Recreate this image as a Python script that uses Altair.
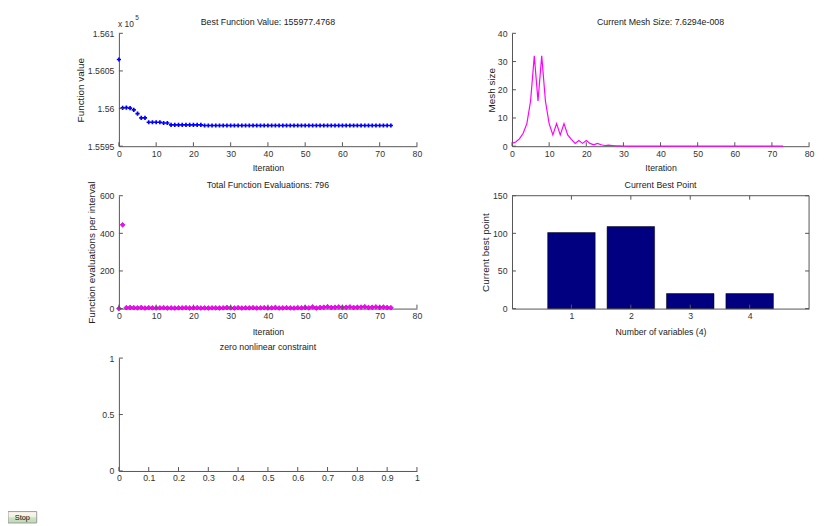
import altair as alt
import pandas as pd

FONT = "Liberation Sans, Arial, sans-serif"
AXC = "#555555"
LBL = "#333333"
TXT = "#222222"

# ---------------- data ----------------
iterations = list(range(74))
best_values = [
    156065.2, 156001.0, 156001.2, 156000.5, 155998.2, 155993.4, 155987.7, 155987.7,
    155981.8, 155981.8, 155981.8, 155981.8, 155980.8, 155980.8, 155978.4, 155978.4,
    155978.4, 155978.4, 155978.4, 155978.4, 155978.4, 155978.4, 155978.4, 155977.5,
    155977.5, 155977.5, 155977.5, 155977.5, 155977.5, 155977.5, 155977.5, 155977.5,
    155977.5, 155977.5, 155977.5, 155977.5, 155977.5, 155977.5, 155977.5, 155977.5,
    155977.5, 155977.5, 155977.5, 155977.5, 155977.5, 155977.5, 155977.5, 155977.5,
    155977.5, 155977.5, 155977.5, 155977.5, 155977.5, 155977.5, 155977.5, 155977.5,
    155977.5, 155977.5, 155977.5, 155977.5, 155977.5, 155977.5, 155977.5, 155977.5,
    155977.5, 155977.5, 155977.5, 155977.5, 155977.5, 155977.5, 155977.5, 155977.5,
    155977.5, 155977.48,
]
mesh_sizes = [
    1.0, 1.5, 2.6, 4.6, 8.0, 16.0, 32.0, 16.0, 32.0, 16.0, 8.0, 4.0, 8.0, 4.0, 8.0, 4.0,
    2.4, 1.0, 2.0, 1.0, 2.0, 1.0, 0.5, 1.0, 0.5, 0.25, 0.4, 0.25, 0.12, 0.1, 0.06, 0.03,
    0.02, 0.01, 0.008, 0.005, 0.004, 0.003, 0.002, 0.0015, 0.001, 0.0008, 0.0005, 0.0004,
    0.0003, 0.0002, 0.00015, 0.0001, 0.00008, 0.00005, 0.00004, 0.00003, 0.00002,
    0.000015, 0.00001, 0.000008, 0.000005, 0.000004, 0.000003, 0.000002, 0.0000015,
    0.000001, 0.0000008, 0.0000005, 0.0000004, 0.0000003, 0.0000002, 0.00000015,
    0.0000001, 0.00000009, 0.00000008, 0.00000008, 0.000000077, 0.0000000763,
]
func_evals = [
    0, 445,
    5, 6, 5, 4, 6, 3, 5, 4, 3, 4, 5, 3, 4, 3, 4, 4, 5, 3, 4, 5, 3, 4, 3, 4,
    4, 3, 4, 6, 4, 3, 5, 3, 4, 4, 5, 3, 4, 5, 3, 4, 6, 3, 4, 5, 4, 3, 5, 4,
    6, 4, 9, 3, 6, 7, 10, 6, 7, 9, 6, 7, 9, 6, 7, 8, 10, 6, 7, 9, 6, 8, 6, 5,
]
variables = [1, 2, 3, 4]
best_point = [101, 109, 20, 20]

iter_ticks = [0, 10, 20, 30, 40, 50, 60, 70, 80]
fv_ticks = [1.5595, 1.56, 1.5605, 1.561]
mesh_ticks = [0, 10, 20, 30, 40]
fe_ticks = [0, 200, 400, 600]
bp_ticks = [0, 50, 100, 150]
var_ticks = [1, 2, 3, 4]
unit_ticks_x = [0, 0.1, 0.2, 0.3, 0.4, 0.5, 0.6, 0.7, 0.8, 0.9, 1]
unit_ticks_y = [0, 0.5, 1]

titles = [
    "Best Function Value: 155977.4768",
    "Current Mesh Size: 7.6294e-008",
    "Total Function Evaluations: 796",
    "Current Best Point",
    "zero nonlinear constraint",
]

LW, RW, H = 301, 300, 114
LABEL_SIZE = 8.8
XTITLE_SIZE = 8.8
YTITLE_SIZE = 10
TITLE_SIZE = 8.9


def xaxis(vals, title=None, fmt="d", ty=22):
    kw = dict(values=vals, ticks=False, tickSize=0, grid=False, labelPadding=3,
              domainColor=AXC, labelColor=LBL, labelFont=FONT,
              labelFontSize=LABEL_SIZE, labelFlush=False, labelOverlap=False,
              labelExpr="format(datum.value, '%s')" % fmt)
    if title:
        kw.update(title=title, titleFont=FONT, titleFontSize=XTITLE_SIZE, titleFontWeight="normal",
                  titleColor=TXT, titleY=ty, titleBaseline="middle")
    else:
        kw.update(title=None)
    return alt.Axis(**kw)


def yaxis(vals, title=None, fmt="d", tx=-30):
    kw = dict(values=vals, ticks=False, tickSize=0, grid=False, labelPadding=5,
              domainColor=AXC, labelColor=LBL, labelFont=FONT, labelFontSize=LABEL_SIZE,
              labelFlush=False, labelOverlap=False,
              labelExpr="format(datum.value, '%s')" % fmt)
    if title:
        kw.update(title=title, titleFont=FONT, titleFontSize=YTITLE_SIZE, titleFontWeight="normal",
                  titleColor=TXT, titleX=tx, titleY=H / 2, titleBaseline="middle",
                  titleAngle=270, titleAlign="center")
    else:
        kw.update(title=None)
    return alt.Axis(**kw)


def ticks_layers(xvals, yvals, xs, ys, ax, ay, w, top=False, right=False):
    dx = pd.DataFrame({"x": xvals})
    dy = pd.DataFrame({"y": yvals})
    layers = [
        alt.Chart(dx).mark_rule(color=AXC, strokeWidth=1).encode(
            x=alt.X("x:Q", scale=xs, axis=ax), y=alt.value(H), y2=alt.value(H - 4)),
        alt.Chart(dy).mark_rule(color=AXC, strokeWidth=1).encode(
            y=alt.Y("y:Q", scale=ys, axis=ay), x=alt.value(0), x2=alt.value(4)),
    ]
    if top:
        layers.append(alt.Chart(dx).mark_rule(color=AXC, strokeWidth=1).encode(
            x=alt.X("x:Q", scale=xs, axis=ax), y=alt.value(0), y2=alt.value(4)))
    if right:
        layers.append(alt.Chart(dy).mark_rule(color=AXC, strokeWidth=1).encode(
            y=alt.Y("y:Q", scale=ys, axis=ay), x=alt.value(w), x2=alt.value(w - 4)))
    return layers


def title_mark(text, w):
    return alt.Chart(pd.DataFrame({"t": [text]})).mark_text(
        font=FONT, fontSize=TITLE_SIZE, color=TXT, align="center", baseline="alphabetic"
    ).encode(text="t:N", x=alt.value(w / 2), y=alt.value(-8))


# ---------------- top-left: best function value ----------------
df_fv = pd.DataFrame({"x": iterations, "y": [v / 1e5 for v in best_values]})
xs_it = alt.Scale(domain=[0, 80], nice=False, zero=False)
ys_fv = alt.Scale(domain=[1.5595, 1.561], nice=False, zero=False)
ax_tl = xaxis(iter_ticks, "Iteration", ty=22)
ay_tl = yaxis(fv_ticks, "Function value", fmt=".5~f", tx=-39)
fv_pts = alt.Chart(df_fv).mark_point(shape="cross", filled=True, size=18, color="#0000ff",
                                      opacity=1).encode(
    x=alt.X("x:Q", scale=xs_it, axis=ax_tl),
    y=alt.Y("y:Q", scale=ys_fv, axis=ay_tl),
)
df_exp = pd.DataFrame({"t": ["x 10"], "s": ["5"]})
exp_a = alt.Chart(df_exp).mark_text(align="left", baseline="alphabetic", font=FONT,
                                     fontSize=8.5, color=LBL).encode(
    text="t:N", x=alt.value(-1), y=alt.value(-6))
exp_b = alt.Chart(df_exp).mark_text(align="left", baseline="alphabetic", font=FONT,
                                     fontSize=6.5, color=LBL).encode(
    text="s:N", x=alt.value(16.5), y=alt.value(-13.5))
tl = alt.layer(fv_pts, *ticks_layers(iter_ticks, fv_ticks, xs_it, ys_fv, ax_tl, ay_tl, LW),
               exp_a, exp_b, title_mark(titles[0], LW)).properties(width=LW, height=H)

# ---------------- top-right: mesh size ----------------
df_ms = pd.DataFrame({"x": iterations, "y": mesh_sizes})
ys_ms = alt.Scale(domain=[0, 40], nice=False)
ax_tr = xaxis(iter_ticks, "Iteration", ty=22)
ay_tr = yaxis(mesh_ticks, "Mesh size", tx=-21)
ms_line = alt.Chart(df_ms).mark_line(color="#ff00ff", strokeWidth=1.2).encode(
    x=alt.X("x:Q", scale=xs_it, axis=ax_tr),
    y=alt.Y("y:Q", scale=ys_ms, axis=ay_tr),
)
tr = alt.layer(ms_line, *ticks_layers(iter_ticks, mesh_ticks, xs_it, ys_ms, ax_tr, ay_tr, RW),
               title_mark(titles[1], RW)).properties(width=RW, height=H)

# ---------------- mid-left: function evaluations ----------------
df_fe = pd.DataFrame({"x": iterations, "y": func_evals})
ys_fe = alt.Scale(domain=[0, 600], nice=False)
ax_ml = xaxis(iter_ticks, "Iteration", ty=23.5)
ay_ml = yaxis(fe_ticks, "Function evaluations per interval", tx=-28)
fe_pts = alt.Chart(df_fe).mark_point(shape="diamond", filled=True, size=24, fill="#ff00ff",
                                      stroke="#a000b0", strokeWidth=0.6, opacity=1).encode(
    x=alt.X("x:Q", scale=xs_it, axis=ax_ml),
    y=alt.Y("y:Q", scale=ys_fe, axis=ay_ml),
)
ml = alt.layer(fe_pts, *ticks_layers(iter_ticks, fe_ticks, xs_it, ys_fe, ax_ml, ay_ml, LW),
               title_mark(titles[2], LW)).properties(width=LW, height=H)

# ---------------- mid-right: current best point ----------------
df_bp = pd.DataFrame({"x": variables, "y": best_point})
xs_var = alt.Scale(domain=[0, 5], nice=False, zero=False)
ys_bp = alt.Scale(domain=[0, 150], nice=False)
ax_mr = xaxis(var_ticks, "Number of variables (4)", ty=23.5)
ay_mr = yaxis(bp_ticks, "Current best point", tx=-26.5)
bars = alt.Chart(df_bp).transform_calculate(
    x0="datum.x - 0.4", x1="datum.x + 0.4"
).mark_rect(color="#000080", stroke="#000000", strokeWidth=0.5).encode(
    x=alt.X("x0:Q", scale=xs_var, axis=ax_mr),
    x2="x1:Q",
    y=alt.Y("y:Q", scale=ys_bp, axis=ay_mr),
    y2=alt.datum(0),
)
df_box = pd.DataFrame({"k": [0]})
box_top = alt.Chart(df_box).mark_rule(color=AXC, strokeWidth=1).encode(
    x=alt.value(0), x2=alt.value(RW), y=alt.value(0))
box_right = alt.Chart(df_box).mark_rule(color=AXC, strokeWidth=1).encode(
    x=alt.value(RW), y=alt.value(0), y2=alt.value(H))
mr = alt.layer(bars, *ticks_layers(var_ticks, bp_ticks, xs_var, ys_bp, ax_mr, ay_mr, RW,
                                   top=True, right=True),
               box_top, box_right, title_mark(titles[3], RW)).properties(width=RW, height=H)

# ---------------- bottom-left: empty constraint plot ----------------
xs_u = alt.Scale(domain=[0, 1], nice=False, zero=False)
ys_u = alt.Scale(domain=[0, 1], nice=False, zero=False)
ax_bl = xaxis(unit_ticks_x, fmt=".1~f")
ay_bl = yaxis(unit_ticks_y, fmt=".1~f")

# Stop button (decoration, bottom-left of the window)
df_btn = pd.DataFrame({"label": ["Stop"]})
btn = alt.Chart(df_btn).mark_rect(
    fill=alt.LinearGradient(gradient="linear", x1=0, y1=0, x2=0, y2=1,
                            stops=[alt.GradientStop(color="#fbf8ee", offset=0),
                                   alt.GradientStop(color="#f3efe2", offset=0.45),
                                   alt.GradientStop(color="#c9e2c4", offset=0.55),
                                   alt.GradientStop(color="#bcdcb6", offset=1)]),
    stroke="#9a9a9a", strokeWidth=1,
).encode(x=alt.value(-112), x2=alt.value(-83), y=alt.value(155), y2=alt.value(166.5))
btn_txt = alt.Chart(df_btn).mark_text(font=FONT, fontSize=7.5, color="#111111",
                                       align="center", baseline="middle").encode(
    text="label:N", x=alt.value(-97.5), y=alt.value(161))
bl = alt.layer(*ticks_layers(unit_ticks_x, unit_ticks_y, xs_u, ys_u, ax_bl, ay_bl, LW),
               btn, btn_txt, title_mark(titles[4], LW)).properties(width=LW, height=H)

chart = alt.concat(tl, tr, ml, mr, bl, columns=2, spacing={"row": 50, "column": 96},
                   bounds="flush").properties(
    autosize=alt.AutoSizeParams(type="none"),
    padding={"left": 112, "top": 23, "right": 816 - 112, "bottom": 518 - 23},
    background="white",
).configure_view(stroke=None).configure_axis(grid=False)

chart.save("out.html", embed_options={"renderer": "svg", "actions": False})
